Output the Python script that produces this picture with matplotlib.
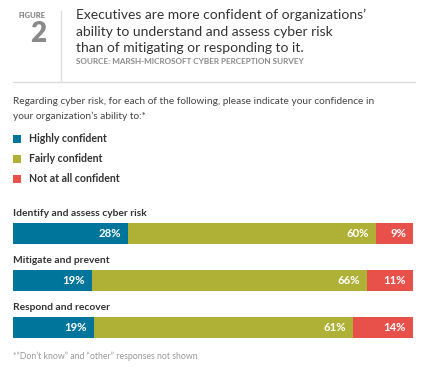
import matplotlib
matplotlib.use("Agg")
import matplotlib.pyplot as plt
import numpy as np

categories = ["Identify and assess cyber risk", "Mitigate and prevent", "Respond and recover"]
series_names = ["Highly confident", "Fairly confident", "Not at all confident"]
highly = [28, 19, 19]
fairly = [60, 66, 61]
not_at_all = [9, 11, 14]
colors = ["#00759b", "#aeb136", "#e8504a"]

plt.rcParams['font.family'] = ['Lato', 'DejaVu Sans']

W, H = 425, 369
fig = plt.figure(figsize=(W / 100, H / 100), dpi=100)

def fx(x):
    return x / W

def fy(y):
    return 1 - y / H

# Header
fig.text(fx(32), fy(15), "FIGURE", fontsize=5.5, color="#8a8a8a", ha="center", va="center", fontweight="heavy")
fig.text(fx(38), fy(34), "2", fontsize=20, color="#8a8a8a", ha="center", va="center", fontweight="heavy")
fig.add_artist(plt.Line2D([fx(61), fx(61)], [fy(11), fy(82)], color="#dddddd", lw=1))
title_lines = ["Executives are more confident of organizations\u2019",
               "ability to understand and assess cyber risk",
               "than of mitigating or responding to it."]
for i, line in enumerate(title_lines):
    fig.text(fx(76), fy(15 + 16.5 * i), line, fontsize=10, color="#333333", ha="left", va="center")
fig.text(fx(76), fy(62), "SOURCE: MARSH-MICROSOFT CYBER PERCEPTION SURVEY", fontsize=5.9,
         color="#8a8a8a", ha="left", va="center", fontweight="bold")
fig.add_artist(plt.Line2D([fx(13), fx(415)], [fy(82), fy(82)], color="#dddddd", lw=1))

# Question
fig.text(fx(13), fy(101), "Regarding cyber risk, for each of the following, please indicate your confidence in",
         fontsize=7.3, color="#444444", ha="left", va="center")
fig.text(fx(13), fy(116), "your organization\u2019s ability to:*", fontsize=7.3, color="#444444",
         ha="left", va="center")

# Legend
for i, (name, c) in enumerate(zip(series_names, colors)):
    yc = 139 + 20 * i
    fig.add_artist(plt.Rectangle((fx(13), fy(yc + 4)), fx(8), 8 / H, color=c, lw=0))
    fig.text(fx(29), fy(yc), name, fontsize=7.6, color="#333333", fontweight="bold",
             ha="left", va="center")

# Bars
ax = fig.add_axes([fx(13), fy(350.8), fx(400), 141.1 / H])
data = np.array([highly, fairly, not_at_all], dtype=float)
totals = data.sum(axis=0)
norm = data / totals
y = np.arange(len(categories))
left = np.zeros(len(categories))
for k in range(3):
    ax.barh(y, norm[k], left=left, height=0.447, color=colors[k], lw=0)
    for j in range(len(categories)):
        ax.annotate(f"{int(data[k, j])}%", xy=(left[j] + norm[k, j], y[j]), xytext=(-5, 0),
                    textcoords="offset points", ha="right", va="center", color="white",
                    fontsize=8.2, fontweight="bold")
    left += norm[k]
for j, cat in enumerate(categories):
    ax.text(0, y[j] - 0.41, cat, ha="left", va="center", fontsize=7.4, fontweight="bold",
            color="#333333")
ax.set_xlim(0, 1)
ax.set_ylim(2.5, -0.5)
ax.axis("off")

fig.text(fx(13), fy(356), "*\u201cDon\u2019t know\u201d and \u201cother\u201d responses not shown", fontsize=6.3,
         color="#999999", ha="left", va="center")

fig.savefig("out.png", dpi=100)
